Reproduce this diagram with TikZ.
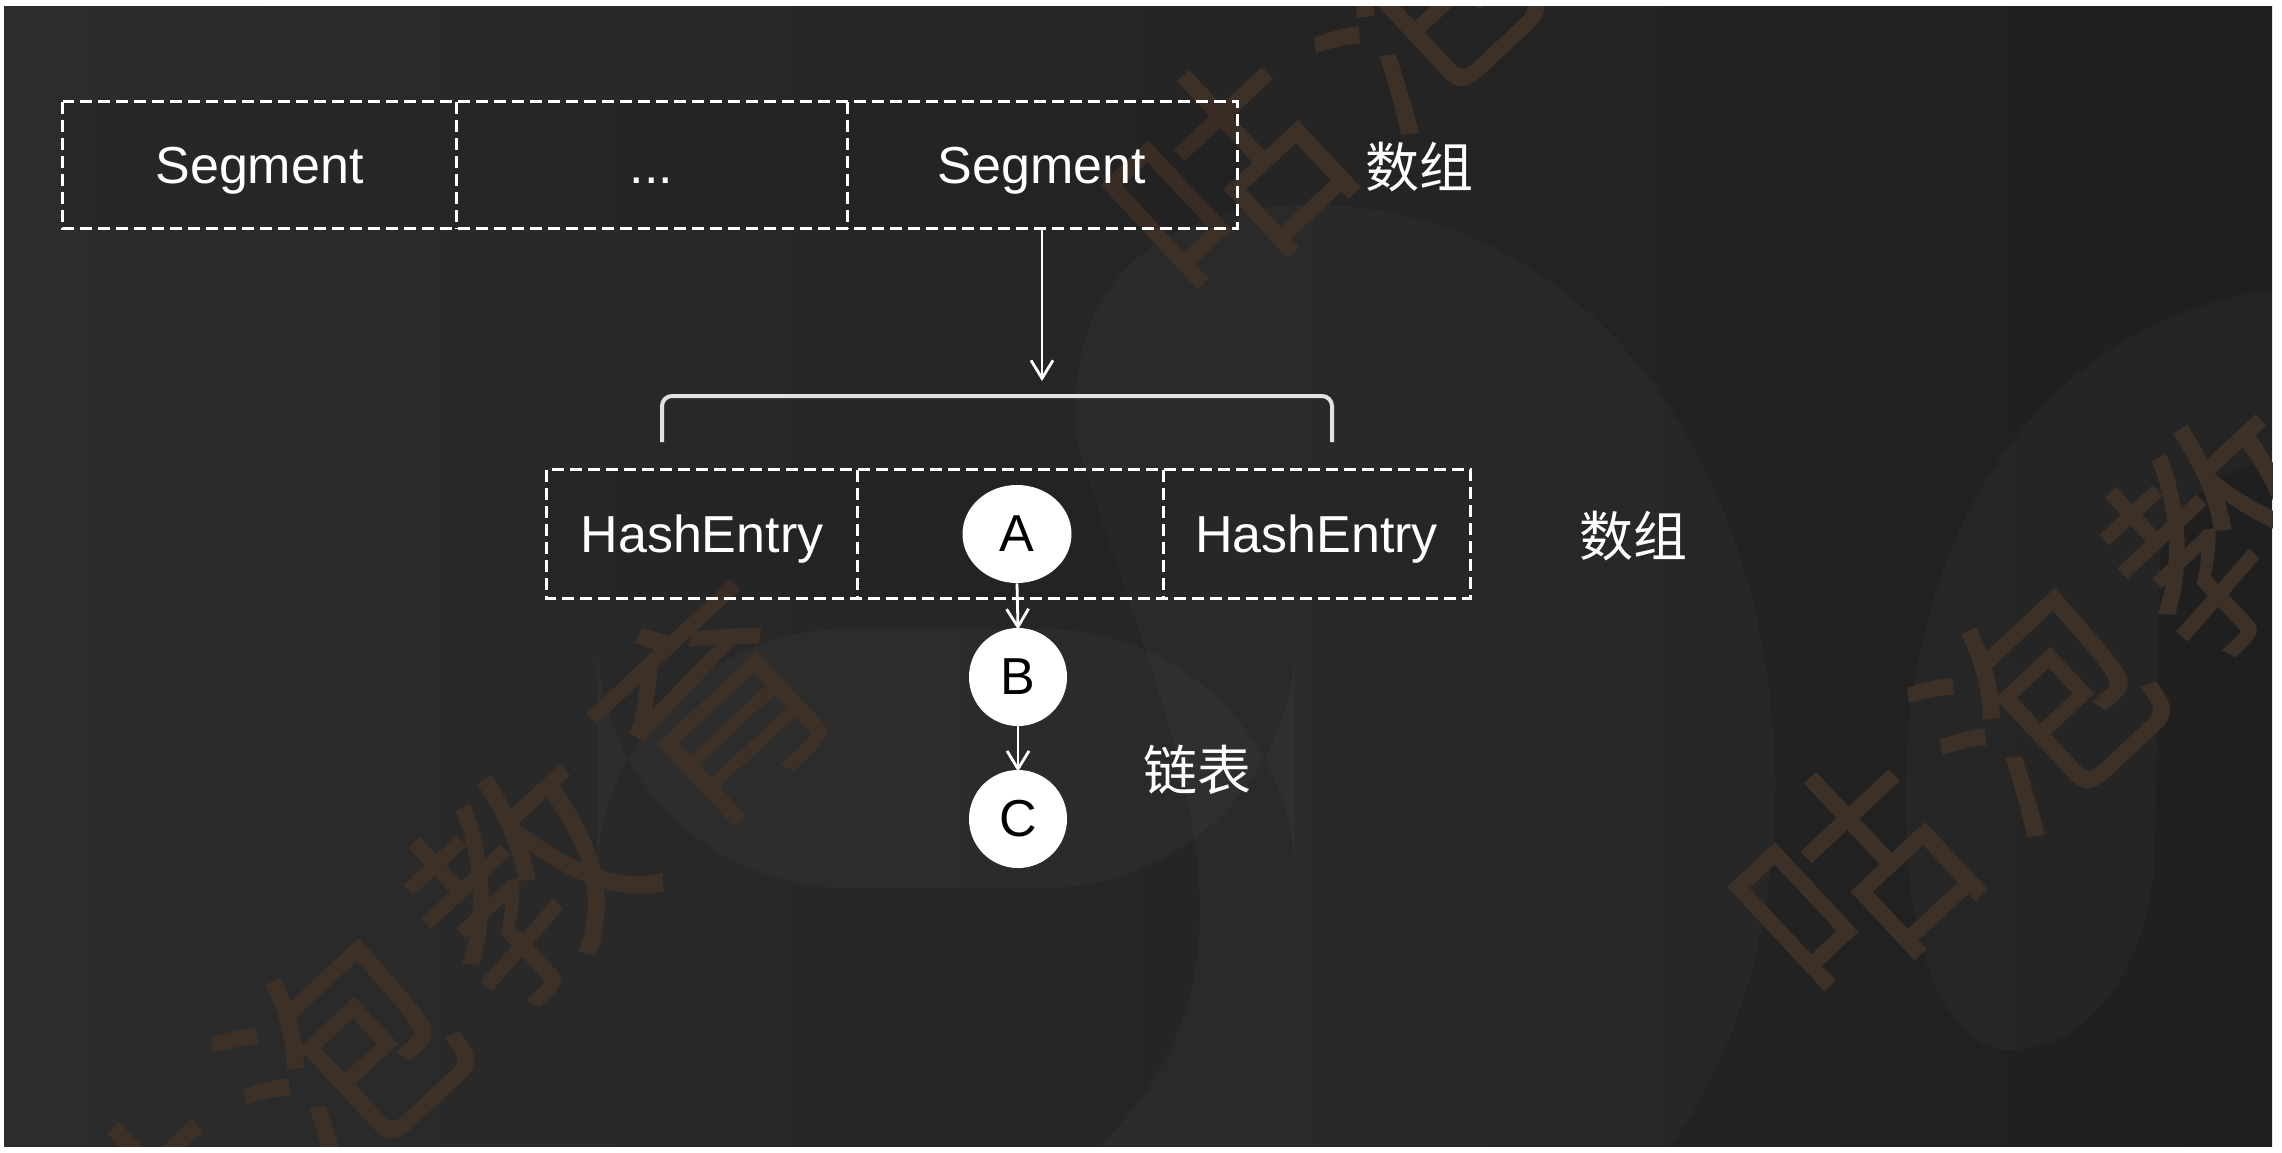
\documentclass[tikz,border=0pt]{standalone}
\usepackage{fontspec}
\setmainfont{Liberation Sans}
\newfontfamily\cjk{Noto Sans CJK SC}
\usetikzlibrary{shapes.geometric,arrows.meta}
\definecolor{bgA}{HTML}{2C2C2C}
\definecolor{bgB}{HTML}{1F1F1F}
\definecolor{wmcol}{HTML}{3D3027}
\definecolor{brk}{HTML}{E2E2E2}
\begin{document}
\begin{tikzpicture}[x=0.5pt,y=-0.5pt,
  cell/.style={inner sep=0pt, minimum height=63pt, text=white,
    font=\fontsize{26}{30}\selectfont, text height=22pt, text depth=4pt,
    fill=black, fill opacity=0.07, text opacity=1},
  cellrow/.style={inner sep=0pt, minimum height=64pt, text=white,
    font=\fontsize{26}{30}\selectfont, text height=22pt, text depth=4pt,
    fill=black, fill opacity=0.07, text opacity=1},
  frame/.style={draw=white, line width=1.4pt, dash pattern=on 6pt off 3pt},
  lbl/.style={text=white, font=\cjk\fontsize{27}{30}\selectfont, inner sep=0pt},
  ball/.style={fill=white, inner sep=0pt, text=black,
    font=\fontsize{26}{30}\selectfont},
  conn/.style={draw=white, line width=1.4pt,
    -{Straight Barb[length=9pt,width=11pt,line width=1.4pt]}},
  wmtext/.style={text=wmcol, font=\cjk\fontsize{112}{112}\selectfont,
    inner sep=0pt, rotate=43}
]
\useasboundingbox (0,0) rectangle (2282,1152);
\fill[white] (0,0) rectangle (2282,1152);
\begin{scope}
  \clip (4,6) rectangle (2272,1146);
  \shade[left color=bgA, right color=bgB] (4,6) rectangle (2272,1146);
  % subtle background shapes
  \fill[white, opacity=0.022] (1077,440) .. controls (1060,250) and (1200,200) .. (1330,205)
     .. controls (1560,215) and (1760,420) .. (1775,760)
     .. controls (1780,950) and (1720,1080) .. (1670,1146) -- (1100,1146)
     .. controls (1300,950) and (1150,700) .. (1077,440) -- cycle;
  \fill[white, opacity=0.025, rounded corners=125pt] (597,629) rectangle (1295,888);
  \fill[white, opacity=0.022] (2272,290) .. controls (2050,320) and (1905,520) .. (1905,800)
     .. controls (1905,960) and (1950,1050) .. (2010,1050)
     .. controls (2080,1050) and (2150,980) .. (2155,850) -- (2160,560)
     .. controls (2170,500) and (2220,470) .. (2272,460) -- cycle;
  % watermark
  \foreach \ch [count=\i from 0] in {咕,泡,教,育} {
    \node[wmtext] (wma\i) at ({155+186*\i},{1230-175*\i}) {\ch};
    \node[wmtext] (wmb\i) at ({1225+186*\i},{178-175*\i}) {\ch};
    \node[wmtext] (wmc\i) at ({1851+186*\i},{880-175*\i}) {\ch};
  }
\end{scope}

% top row: Segment array
\node[cell, minimum width=196.5pt] (s1) at (259.5,165) {Segment};
\node[cell, minimum width=195.5pt] (s2) at (651.5,165) {...};
\node[cell, minimum width=195pt] (s3) at (1042,165) {Segment};
\draw[frame] (s1.north west) rectangle (s3.south east);
\draw[frame] (s1.north east) -- (s1.south east);
\draw[frame] (s2.north east) -- (s2.south east);
\node[lbl] (arr1) at (1419,167) {数组};

% arrow to bracket
\coordinate (atip) at (1042,381);
\draw[conn] (s3.south) -- (atip);
\draw[brk, line width=2pt, rounded corners=5pt] (662,442) -- (662,396) -- (1332,396) -- (1332,442);

% second row: HashEntry array
\node[cellrow, minimum width=155pt] (h1) at (702,534) {HashEntry};
\node[cellrow, minimum width=153pt] (h2) at (1010,534) {};
\node[cellrow, minimum width=153.5pt] (h3) at (1316.5,534) {HashEntry};
\draw[frame] (h1.north west) rectangle (h3.south east);
\draw[frame] (h1.north east) -- (h1.south east);
\draw[frame] (h2.north east) -- (h2.south east);
\node[lbl] (arr2) at (1633,536) {数组};

% linked list
\node[ball, ellipse, minimum width=54.5pt, minimum height=49pt] (A) at (1017,534) {A};
\node[ball, circle, minimum size=49pt] (B) at (1018,677) {B};
\node[ball, circle, minimum size=49pt] (C) at (1018,819) {C};
\draw[conn] (A.south) -- ([yshift=-1pt]B.north);
\draw[conn] (B.south) -- ([yshift=-1pt]C.north);
\node[lbl] (list) at (1197,770) {链表};
\end{tikzpicture}
\end{document}
